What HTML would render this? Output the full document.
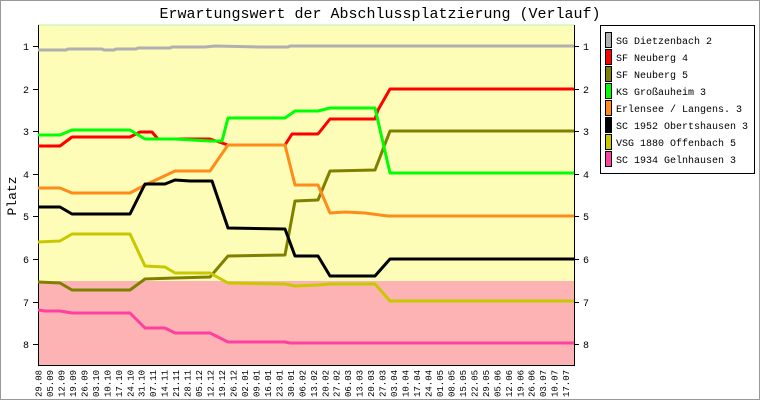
<!DOCTYPE html>
<html><head><style>body{margin:0;background:#fff}svg{display:block}</style></head><body>
<svg width="760" height="400" xmlns="http://www.w3.org/2000/svg" font-family="Liberation Mono, DejaVu Sans Mono, monospace">
<rect x="0.5" y="0.5" width="759" height="399" fill="#fff" stroke="#999"/>
<text x="380" y="18" text-anchor="middle" font-size="15">Erwartungswert der Abschlussplatzierung (Verlauf)</text>
<rect x="38" y="25" width="536" height="256" fill="#fdfdb8"/>
<rect x="38" y="281" width="536" height="84" fill="#fdb3b3"/>
<line x1="38" y1="25" x2="574" y2="25" stroke="#b8f0b8"/>
<g stroke="#000" stroke-width="1" fill="none">
<path d="M38.5 25V365.5H574.5V25"/>
<path d="M33 46.5h5M33 89.5h5M33 131.5h5M33 174.5h5M33 216.5h5M33 259.5h5M33 302.5h5M33 344.5h5"/>
<path d="M574 46.5h5M574 89.5h5M574 131.5h5M574 174.5h5M574 216.5h5M574 259.5h5M574 302.5h5M574 344.5h5"/>
</g>
<g font-size="10" text-anchor="middle">
<text x="26" y="50">1</text><text x="26" y="93">2</text><text x="26" y="135">3</text><text x="26" y="178">4</text><text x="26" y="220">5</text><text x="26" y="263">6</text><text x="26" y="306">7</text><text x="26" y="348">8</text>
<text x="586" y="50">1</text><text x="586" y="93">2</text><text x="586" y="135">3</text><text x="586" y="178">4</text><text x="586" y="220">5</text><text x="586" y="263">6</text><text x="586" y="306">7</text><text x="586" y="348">8</text>
</g>
<text transform="translate(16,196) rotate(-90)" text-anchor="middle" font-size="13">Platz</text>
<g fill="none" stroke-width="3" stroke-linejoin="round">
<polyline stroke="#b0b0b0" points="38,50 66,50 68,49 102,49 104,50 114,50 116,49 136,49 138,48 170,48 172,47 205,47 215,46 260,47 288,47 290,46 574,46"/>
<polyline stroke="#ff0000" points="38,146 60,146 72,137 130,137 140,132 152,132 158,139 210,139 228,145 285,145 292,134 318,134 330,119 375,119 378,110 390,89 574,89"/>
<polyline stroke="#808000" points="38,282 60,283 72,290 130,290 145,279 175,278 210,277 228,256 285,255 295,201 318,200 330,171 375,170 390,131 574,131"/>
<polyline stroke="#00ff00" points="38,135 60,135 72,130 130,130 145,139 175,139 210,141 222,141 228,118 285,118 295,111 318,111 330,108 375,108 390,173 574,173"/>
<polyline stroke="#ff8c1a" points="38,188 60,188 72,193 130,193 145,185 175,171 210,171 228,145 285,145 295,185 318,185 330,213 345,212 365,213 388,216 574,216"/>
<polyline stroke="#000000" points="38,207 60,207 72,214 130,214 145,184 165,184 175,180 190,181 212,181 228,228 285,229 295,256 318,256 330,276 375,276 390,259 574,259"/>
<polyline stroke="#c8c800" points="38,242 60,241 72,234 130,234 145,266 165,267 175,273 210,273 228,283 285,284 295,286 318,285 330,284 375,284 390,301 574,301"/>
<polyline stroke="#ff40a0" points="38,310 45,311 60,311 72,313 130,313 145,328 165,328 175,333 210,333 228,342 285,342 290,343 574,343"/>
</g>
<rect x="600.5" y="25.5" width="154" height="148" fill="#fff" stroke="#000"/>
<g stroke="#000" stroke-width="1">
<rect x="605.5" y="32.5" width="6" height="15" fill="#b0b0b0"/>
<rect x="605.5" y="49.5" width="6" height="15" fill="#ff0000"/>
<rect x="605.5" y="66.5" width="6" height="15" fill="#808000"/>
<rect x="605.5" y="83.5" width="6" height="15" fill="#00ff00"/>
<rect x="605.5" y="100.5" width="6" height="15" fill="#ff8c1a"/>
<rect x="605.5" y="117.5" width="6" height="15" fill="#000"/>
<rect x="605.5" y="134.5" width="6" height="15" fill="#c8c800"/>
<rect x="605.5" y="151.5" width="6" height="15" fill="#ff40a0"/>
</g>
<g font-size="10">
<text x="616" y="44">SG Dietzenbach 2</text>
<text x="616" y="61">SF Neuberg 4</text>
<text x="616" y="78">SF Neuberg 5</text>
<text x="616" y="95">KS Großauheim 3</text>
<text x="616" y="112">Erlensee / Langens. 3</text>
<text x="616" y="129">SC 1952 Obertshausen 3</text>
<text x="616" y="146">VSG 1880 Offenbach 5</text>
<text x="616" y="163">SC 1934 Gelnhausen 3</text>
</g>
<g font-size="9">
<text transform="translate(41.5,397) rotate(-90)">29.08</text>
<text transform="translate(53,397) rotate(-90)">05.09</text>
<text transform="translate(64.4,397) rotate(-90)">12.09</text>
<text transform="translate(75.9,397) rotate(-90)">19.09</text>
<text transform="translate(87.4,397) rotate(-90)">26.09</text>
<text transform="translate(98.8,397) rotate(-90)">03.10</text>
<text transform="translate(110.3,397) rotate(-90)">10.10</text>
<text transform="translate(121.8,397) rotate(-90)">17.10</text>
<text transform="translate(133.3,397) rotate(-90)">24.10</text>
<text transform="translate(144.7,397) rotate(-90)">31.10</text>
<text transform="translate(156.2,397) rotate(-90)">07.11</text>
<text transform="translate(167.7,397) rotate(-90)">14.11</text>
<text transform="translate(179.1,397) rotate(-90)">21.11</text>
<text transform="translate(190.6,397) rotate(-90)">28.11</text>
<text transform="translate(202.1,397) rotate(-90)">05.12</text>
<text transform="translate(213.6,397) rotate(-90)">12.12</text>
<text transform="translate(225,397) rotate(-90)">19.12</text>
<text transform="translate(236.5,397) rotate(-90)">26.12</text>
<text transform="translate(248,397) rotate(-90)">02.01</text>
<text transform="translate(259.4,397) rotate(-90)">09.01</text>
<text transform="translate(270.9,397) rotate(-90)">16.01</text>
<text transform="translate(282.4,397) rotate(-90)">23.01</text>
<text transform="translate(293.8,397) rotate(-90)">30.01</text>
<text transform="translate(305.3,397) rotate(-90)">06.02</text>
<text transform="translate(316.8,397) rotate(-90)">13.02</text>
<text transform="translate(328.3,397) rotate(-90)">20.02</text>
<text transform="translate(339.7,397) rotate(-90)">27.02</text>
<text transform="translate(351.2,397) rotate(-90)">06.03</text>
<text transform="translate(362.7,397) rotate(-90)">13.03</text>
<text transform="translate(374.1,397) rotate(-90)">20.03</text>
<text transform="translate(385.6,397) rotate(-90)">27.03</text>
<text transform="translate(397.1,397) rotate(-90)">03.04</text>
<text transform="translate(408.6,397) rotate(-90)">10.04</text>
<text transform="translate(420,397) rotate(-90)">17.04</text>
<text transform="translate(431.5,397) rotate(-90)">24.04</text>
<text transform="translate(443,397) rotate(-90)">01.05</text>
<text transform="translate(454.4,397) rotate(-90)">08.05</text>
<text transform="translate(465.9,397) rotate(-90)">15.05</text>
<text transform="translate(477.4,397) rotate(-90)">22.05</text>
<text transform="translate(488.8,397) rotate(-90)">29.05</text>
<text transform="translate(500.3,397) rotate(-90)">05.06</text>
<text transform="translate(511.8,397) rotate(-90)">12.06</text>
<text transform="translate(523.3,397) rotate(-90)">19.06</text>
<text transform="translate(534.7,397) rotate(-90)">26.06</text>
<text transform="translate(546.2,397) rotate(-90)">03.07</text>
<text transform="translate(557.7,397) rotate(-90)">10.07</text>
<text transform="translate(569.1,397) rotate(-90)">17.07</text>
</g>
</svg>
</body></html>
